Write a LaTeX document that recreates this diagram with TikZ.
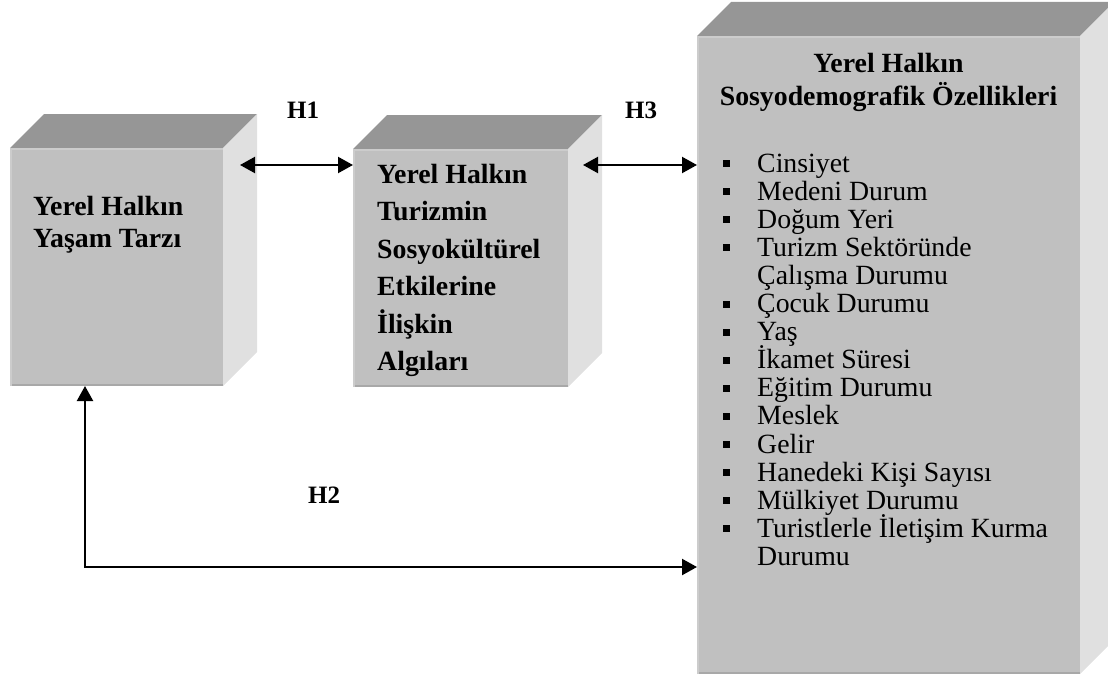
\documentclass[tikz,border=0pt]{standalone}
\usepackage{fontspec}
\setmainfont{Liberation Serif}
\usetikzlibrary{arrows.meta}
\definecolor{frontc}{HTML}{C0C0C0}
\definecolor{topc}{HTML}{969696}
\definecolor{sidec}{HTML}{E0E0E0}
\definecolor{edgelo}{HTML}{A8A8A8}
\definecolor{edgehi}{HTML}{CCCCCC}
\tikzset{
  front/.style={fill=frontc, inner sep=0, outer sep=0, anchor=north west},
  topface/.style={fill=topc},
  sideface/.style={fill=sidec},
  ttl/.style={font=\fontsize{27.8}{30}\selectfont\bfseries, inner sep=0, anchor=base west},
  ttlc/.style={font=\fontsize{27.8}{30}\selectfont\bfseries, inner sep=0, anchor=base},
  itm/.style={font=\fontsize{27.8}{28}\selectfont, inner sep=0, anchor=base west},
  hlab/.style={font=\fontsize{25}{28}\selectfont\bfseries, inner sep=0, anchor=base west},
  bul/.style={fill=black, inner sep=0, outer sep=0, minimum size=7pt},
  conn/.style={line width=2.2pt, {Triangle[length=15pt,width=16pt]}-{Triangle[length=15pt,width=16pt]}}
}
\newcommand{\cubefaces}[2]{%
  \fill[topface] (#1.north west) -- ++(#2,-#2) -- ([shift={(#2,-#2)}]#1.north east) -- (#1.north east) -- cycle;
  \fill[sideface] (#1.north east) -- ([shift={(#2,-#2)}]#1.north east) -- ([shift={(#2,-#2)}]#1.south east) -- (#1.south east) -- cycle;
  \draw[edgelo, line width=2.5pt] ([yshift=1.25pt]#1.south west) -- ([yshift=1.25pt]#1.south east);
  \draw[edgehi, line width=2pt] ([xshift=1pt]#1.south west) -- ([xshift=1pt]#1.north west);
  \draw[edgehi, line width=2pt] ([yshift=-1pt]#1.north west) -- ([yshift=-1pt]#1.north east);
}
\begin{document}
\begin{tikzpicture}[x=1pt,y=-1pt]
\useasboundingbox (0,0) rectangle (1108,677);

% boxes
\node[front, minimum width=213pt, minimum height=238pt] (b1) at (10,148) {};
\cubefaces{b1}{34}
\node[front, minimum width=215pt, minimum height=238pt] (b2) at (353,149) {};
\cubefaces{b2}{34}
\node[front, minimum width=383pt, minimum height=638pt] (b3) at (697,36) {};
\cubefaces{b3}{34}

% box 1 text
\node[ttl] (t1a) at (33,215) {Yerel Halkın};
\node[ttl] (t1b) at (33,247) {Yaşam Tarzı};

% box 2 text
\node[ttl] (t2a) at (377,183) {Yerel Halkın};
\node[ttl] (t2b) at (377,220.5) {Turizmin};
\node[ttl] (t2c) at (377,258) {Sosyokültürel};
\node[ttl] (t2d) at (377,295.5) {Etkilerine};
\node[ttl] (t2e) at (377,333) {İlişkin};
\node[ttl] (t2f) at (377,370.5) {Algıları};

% box 3 title
\node[ttlc] (t3a) at (888.5,73) {Yerel Halkın};
\node[ttlc] (t3b) at (888.5,105) {Sosyodemografik Özellikleri};

% box 3 items
\foreach \k/\txt/\b in {0/Cinsiyet/1,1/Medeni Durum/1,2/Doğum Yeri/1,3/Turizm Sektöründe/1,4/Çalışma Durumu/0,5/Çocuk Durumu/1,6/Yaş/1,7/İkamet Süresi/1,8/Eğitim Durumu/1,9/Meslek/1,10/Gelir/1,11/Hanedeki Kişi Sayısı/1,12/Mülkiyet Durumu/1,13/Turistlerle İletişim Kurma/1,14/Durumu/0}{
  \node[itm] (it\k) at (757,172+28.1*\k) {\txt};
  \ifnum\b=1 \node[bul] (bu\k) at (726,163.5+28.1*\k) {};\fi
}

% connectors
\coordinate (h1s) at (240,165);
\coordinate (h3s) at (583,165);
\coordinate (h2c) at (85,567);
\draw[conn] (h1s) -- (b2.west |- h1s);
\draw[conn] (h3s) -- (b3.west |- h3s);
\draw[conn] (b1.south -| h2c) -- (h2c) -- (b3.west |- h2c);

% labels
\node[hlab] (H1) at (287,118) {H1};
\node[hlab] (H3) at (625,118) {H3};
\node[hlab] (H2) at (308,503) {H2};
\end{tikzpicture}
\end{document}
